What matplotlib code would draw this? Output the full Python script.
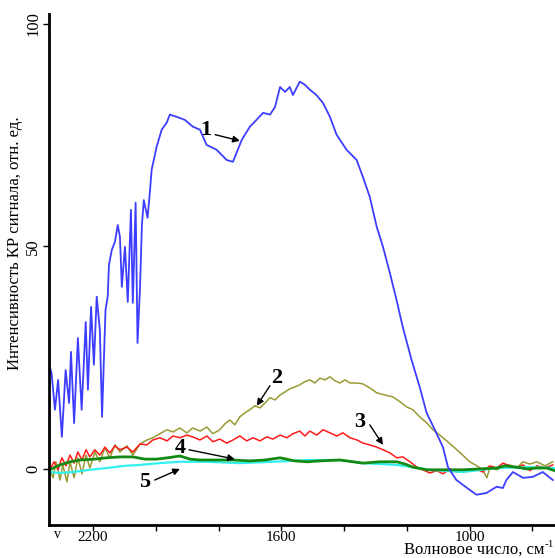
import matplotlib
matplotlib.use("Agg")
import matplotlib.pyplot as plt

# curve 1 (blue)
wn1 = [2337, 2332, 2321, 2311, 2299, 2287, 2276, 2270, 2260, 2248, 2236, 2223, 2216,
       2206, 2197, 2188, 2178, 2171, 2160, 2153, 2149, 2140, 2130, 2121, 2114, 2108,
       2098, 2089, 2079, 2073, 2064, 2058, 2050, 2044, 2038, 2026, 2018, 2013, 1997,
       1981, 1965, 1955, 1933, 1907, 1882, 1859, 1838, 1806, 1774, 1754, 1726, 1700,
       1679, 1658, 1636, 1620, 1604, 1588, 1573, 1563, 1541, 1525, 1509, 1488, 1467,
       1445, 1424, 1392, 1360, 1340, 1318, 1296, 1276, 1254, 1233, 1213, 1185, 1159,
       1137, 1111, 1085, 1069, 1042, 1000, 978, 946, 914, 894, 883, 862, 830, 799,
       767, 735]
i1 = [22.7, 21.6, 13.3, 20.0, 7.2, 22.2, 14.8, 26.3, 10.3, 29.4, 13.3, 33.0, 17.8,
      36.4, 23.4, 38.7, 31.2, 11.7, 35.7, 38.7, 45.8, 49.2, 51.0, 54.8, 52.1, 40.9,
      49.9, 37.5, 58.2, 37.3, 59.8, 28.3, 40.9, 54.8, 60.4, 56.4, 62.7, 67.2, 72.4,
      76.2, 77.8, 79.6, 79.1, 78.4, 76.9, 76.2, 72.8, 71.7, 69.4, 69.0, 73.9, 76.9,
      78.4, 80.0, 79.6, 81.3, 85.8, 84.7, 85.8, 84.0, 87.0, 86.3, 85.2, 84.0, 82.2,
      79.1, 75.1, 71.7, 69.4, 65.6, 61.1, 54.4, 49.9, 44.0, 38.0, 31.9, 24.5, 18.4,
      12.6, 8.8, 4.9, 0.4, -2.5, -4.7, -5.8, -5.4, -4.0, -4.3, -2.5, -0.7, -2.0, -1.8,
      -0.7, -2.5]

# curve 2 (olive)
wn2 = [2337, 2327, 2318, 2305, 2296, 2283, 2273, 2260, 2248, 2235, 2222, 2210, 2194,
       2178, 2162, 2146, 2130, 2114, 2092, 2073, 2050, 2028, 2009, 1987, 1964, 1945,
       1923, 1901, 1882, 1859, 1837, 1818, 1796, 1780, 1764, 1748, 1732, 1716, 1700,
       1684, 1668, 1652, 1636, 1620, 1604, 1588, 1573, 1557, 1541, 1525, 1509, 1493,
       1477, 1461, 1445, 1429, 1413, 1397, 1381, 1359, 1340, 1318, 1296, 1270, 1245,
       1222, 1200, 1181, 1159, 1136, 1117, 1095, 1073, 1047, 1022, 1000, 977, 958,
       945, 936, 913, 894, 872, 850, 830, 808, 786, 760, 735]
i2 = [-0.2, -2.0, 1.6, -2.5, 0.9, -2.9, 1.6, -2.0, 2.5, -1.1, 3.1, 0.2, 3.8, 1.6,
      4.7, 2.5, 5.4, 3.8, 5.2, 3.1, 5.6, 6.5, 7.0, 7.9, 8.8, 8.3, 9.2, 8.1, 9.2, 8.5,
      9.4, 7.9, 8.8, 10.1, 11.0, 9.9, 11.7, 12.6, 13.3, 14.2, 13.7, 14.8, 16.0, 15.5,
      16.6, 17.3, 18.0, 18.4, 18.9, 19.6, 20.0, 19.3, 20.4, 20.0, 20.7, 19.8, 19.3,
      20.0, 19.3, 19.3, 19.1, 18.2, 17.1, 16.6, 16.2, 15.1, 13.9, 13.3, 11.7, 10.3,
      8.8, 7.6, 6.3, 4.7, 3.1, 1.6, 0.7, -0.2, -2.0, 0.2, -0.2, 0.7, 0.9, 0.2, 1.6,
      1.1, 1.6, 0.7, 1.6]

# curve 3 (red)
wn3 = [2337, 2324, 2311, 2299, 2286, 2273, 2260, 2248, 2235, 2222, 2210, 2194, 2178,
       2162, 2146, 2130, 2114, 2092, 2073, 2050, 2028, 2009, 1987, 1964, 1945, 1923,
       1901, 1882, 1859, 1837, 1818, 1796, 1774, 1754, 1732, 1710, 1690, 1668, 1646,
       1627, 1604, 1582, 1563, 1541, 1525, 1509, 1487, 1467, 1445, 1423, 1404, 1381,
       1359, 1340, 1318, 1296, 1276, 1254, 1232, 1213, 1190, 1168, 1149, 1127, 1104,
       1085, 1063, 1041, 1022, 1000, 977, 958, 936, 913, 894, 872, 850, 830, 808,
       786, 760, 735]
i3 = [-0.2, 1.6, -0.2, 2.5, 0.7, 3.1, 1.3, 3.8, 2.0, 4.3, 2.7, 4.3, 3.1, 4.9, 3.6,
      5.2, 4.3, 4.9, 3.8, 5.6, 5.4, 6.5, 7.0, 6.3, 7.4, 7.0, 7.6, 7.2, 6.5, 7.4, 6.1,
      6.7, 5.8, 6.5, 7.4, 6.3, 7.0, 6.3, 7.2, 6.7, 7.6, 7.0, 7.9, 8.5, 7.4, 8.5, 7.6,
      8.8, 8.1, 7.4, 8.1, 7.0, 6.5, 5.8, 5.4, 4.9, 4.3, 3.6, 2.5, 2.7, 1.6, 0.4,
      -0.2, -0.9, -0.4, -1.1, 0.0, -0.7, -0.2, -0.4, 0.0, -0.7, 0.7, 0.2, 1.3, 0.7,
      0.2, 0.9, -0.4, 0.7, 0.2, 0.9]

# curve 4 (green)
wn4 = [2337, 2321, 2305, 2273, 2241, 2194, 2156, 2114, 2073, 2035, 1997, 1962, 1923,
       1891, 1859, 1811, 1754, 1700, 1652, 1604, 1557, 1518, 1477, 1413, 1340, 1286,
       1232, 1206, 1181, 1136, 1079, 1022, 968, 913, 888, 850, 818, 786, 754, 729]
i4 = [-0.2, 0.4, 0.9, 1.6, 2.0, 2.2, 2.5, 2.7, 2.7, 2.2, 2.2, 2.5, 2.9, 2.2, 2.0,
      2.0, 2.0, 1.8, 2.0, 2.5, 1.8, 1.6, 1.8, 2.0, 1.3, 1.6, 1.6, 1.1, 0.4, -0.2,
      -0.2, -0.2, 0.0, 0.2, 0.7, 0.4, 0.0, 0.2, 0.2, -0.4]

# curve 5 (cyan)
wn5 = [2337, 2305, 2264, 2210, 2156, 2098, 2050, 1987, 1923, 1837, 1732, 1627, 1518,
       1413, 1340, 1232, 1127, 1022, 913, 808, 729]
i5 = [-0.7, -0.9, -0.7, -0.2, 0.2, 0.7, 0.9, 1.3, 1.6, 1.6, 1.3, 1.6, 2.0, 2.0,
      1.3, 0.9, -0.2, -0.7, 0.2, 0.4, 0.2]

serif = "Liberation Serif"

fig = plt.figure(figsize=(5.55, 5.58), dpi=100)
ax = fig.add_axes([49 / 555, 33 / 558, 506 / 555, 511 / 558])

ax.plot(wn2, i2, color="#999933", lw=1.1)
ax.plot(wn3, i3, color="#ff1a1a", lw=1.1)
ax.plot(wn5, i5, color="#33f0f0", lw=1.6)
ax.plot(wn4, i4, color="#138a13", lw=2.0)
ax.plot(wn1, i1, color="#3d3dff", lw=1.3)

ax.set_xlim(2340, 728)
ax.set_ylim(-12.6, 102.2)

for s in ["top", "right"]:
    ax.spines[s].set_visible(False)
for s in ["left", "bottom"]:
    ax.spines[s].set_linewidth(2)

ax.set_xticks([2200, 1600, 1000])
ax.set_xticks([2000, 1800, 1400, 1200, 800], minor=True)
ax.set_xticklabels(["2200", "1600", "1000"], fontfamily=serif, fontsize=11)
ax.set_yticks([0, 50, 100])
ax.set_yticklabels(["0", "50", "100"], fontfamily=serif, fontsize=12,
                   rotation=90, va="center")
ax.tick_params(axis="both", which="both", length=4, width=1, pad=1.5)
ax.tick_params(axis="x", which="major", pad=0)

fig.text(15 / 555, 1 - 243 / 558, "Интенсивность КР сигнала, отн. ед.",
         rotation=90, ha="center", va="center", fontfamily=serif, fontsize=12)
fig.text(544 / 555, 1 - 554 / 558, "Волновое число, см",
         ha="right", va="baseline", fontfamily=serif, fontsize=12)
fig.text(545 / 555, 1 - 547 / 558, "-1", ha="left", va="baseline",
         fontfamily=serif, fontsize=8)
fig.text(58 / 555, 1 - 535 / 558, "v", ha="center", va="center",
         fontfamily=serif, fontsize=10)

arrow = dict(arrowstyle="-|>", color="black", lw=1, mutation_scale=10,
             shrinkA=0, shrinkB=0)
labels = [("1", (1839, 76.2), (1811, 75.1), (1732, 73.7)),
          ("2", (1614, 20.4), (1636, 18.7), (1678, 14.2)),
          ("3", (1350, 10.6), (1318, 9.9), (1276, 5.4)),
          ("4", (1923, 4.7), (1894, 4.3), (1748, 2.2)),
          ("5", (2034, -2.9), (2003, -2.5), (1923, 0.0))]
for txt, pos, tail, head in labels:
    ax.text(pos[0], pos[1], txt, ha="center", va="center", fontfamily=serif,
            fontweight="bold", fontsize=16)
    ax.annotate("", xy=head, xytext=tail, arrowprops=arrow)

fig.savefig("out.png", dpi=100)
